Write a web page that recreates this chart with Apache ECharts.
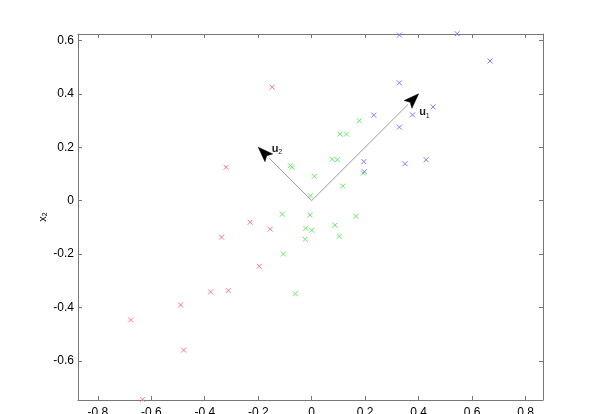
<!DOCTYPE html>
<html><head><meta charset="utf-8">
<script src="https://cdn.jsdelivr.net/npm/echarts@6/dist/echarts.min.js"></script>
<style>html,body{margin:0;padding:0;background:#fff}#c{width:600px;height:414px}</style>
</head><body><div id="c"></div><script>
// class 1 (red)
const redX = [-0.148,-0.320,-0.230,-0.155,-0.337,-0.196,-0.378,-0.312,-0.490,-0.677,-0.479,-0.632];
const redY = [0.425,0.125,-0.081,-0.107,-0.137,-0.246,-0.342,-0.337,-0.391,-0.447,-0.560,-0.745];
// class 2 (green)
const greenX = [0.178,0.106,0.130,0.077,0.096,-0.080,-0.073,0.010,0.193,0.116,-0.005,-0.110,-0.006,0.166,0.087,-0.022,0.000,0.103,-0.024,-0.106,-0.061];
const greenY = [0.299,0.249,0.249,0.155,0.153,0.131,0.125,0.091,0.103,0.054,0.018,-0.051,-0.054,-0.059,-0.092,-0.104,-0.111,-0.134,-0.145,-0.200,-0.349];
// class 3 (blue)
const blueX = [0.328,0.544,0.667,0.328,0.454,0.377,0.232,0.328,0.195,0.349,0.428,0.197];
const blueY = [0.620,0.625,0.523,0.441,0.351,0.321,0.320,0.275,0.146,0.138,0.153,0.108];
// principal directions: origin, tip, label anchor, subscript
const vecStart = [[0,0],[0,0]];
const vecTip = [[0.4,0.4],[-0.2,0.2]];
const vecLabelAt = [[0.402,0.331],[-0.149,0.193]];
const vecLabelSub = ['1','2'];
// axis ticks
const xTicks = [-0.8,-0.6,-0.4,-0.2,0,0.2,0.4,0.6,0.8];
const yTicks = [-0.6,-0.4,-0.2,0,0.2,0.4,0.6];
const xMin=-0.874, xMax=0.865, yMin=-0.747, yMax=0.624;

const zip=(a,b)=>a.map((v,i)=>[v,b[i]]);
const xPath='path://M0,0L10,10M10,0L0,10';
function sc(name,xs,ys,col){
  return {type:'scatter',name,data:zip(xs,ys),symbol:xPath,symbolSize:5,clip:false,
    itemStyle:{color:'transparent',borderColor:col,borderWidth:1,opacity:1},
    emphasis:{disabled:true},z:3};
}
const font='Liberation Sans';
const axCol='#777';
function xAx(pos,show){
  return {type:'value',position:pos,min:xMin,max:xMax,
    axisLine:{show:true,onZero:false,lineStyle:{color:axCol,width:1}},
    axisTick:{show:true,inside:true,length:4,customValues:xTicks,lineStyle:{color:axCol}},
    axisLabel:{show:show,customValues:xTicks,margin:7,color:'#000',fontSize:12,fontFamily:font,
      formatter:v=>String(Math.round(v*10)/10)},
    splitLine:{show:false}};
}
function yAx(pos,show){
  return {type:'value',position:pos,min:yMin,max:yMax,
    axisLine:{show:true,onZero:false,lineStyle:{color:axCol,width:1}},
    axisTick:{show:true,inside:true,length:4,customValues:yTicks,lineStyle:{color:axCol}},
    axisLabel:{show:show,customValues:yTicks,margin:4,color:'#000',fontSize:12,fontFamily:font,
      formatter:v=>String(Math.round(v*10)/10)},
    splitLine:{show:false}};
}
const yLeft=yAx('left',true);
yLeft.name='x{s|2}';
yLeft.nameLocation='middle';
yLeft.nameRotate=90;
yLeft.nameGap=29;
yLeft.nameMoveOverlap=false;
yLeft.nameTextStyle={color:'#000',fontSize:11,fontFamily:font,rich:{s:{fontSize:7,color:'#000',fontFamily:font,padding:[5,0,0,0]}}};

const arrowData=vecStart.map((s,i)=>[s[0],s[1],vecTip[i][0],vecTip[i][1],vecLabelAt[i][0],vecLabelAt[i][1]]);

const chart=echarts.init(document.getElementById('c'),null,{renderer:'canvas'});
chart.setOption({
  animation:false,
  backgroundColor:'#fff',
  grid:{left:78,right:57,top:34,bottom:14,outerBoundsMode:'none',containLabel:false},
  xAxis:[xAx('bottom',true),xAx('top',false)],
  yAxis:[yLeft,yAx('right',false)],
  series:[
    sc('c1',redX,redY,'#ff7a7a'),
    sc('c2',greenX,greenY,'#66ee66'),
    sc('c3',blueX,blueY,'#7a7aff'),
    {type:'custom',data:arrowData,encode:{x:[0,2,4],y:[1,3,5]},z:5,
     renderItem(params,api){
       const p0=api.coord([api.value(0),api.value(1)]);
       const p1=api.coord([api.value(2),api.value(3)]);
       const lp=api.coord([api.value(4),api.value(5)]);
       const dx=p1[0]-p0[0], dy=p1[1]-p0[1], L=Math.hypot(dx,dy), ux=dx/L, uy=dy/L;
       const hl=15, hw=5.5;
       const bx=p1[0]-ux*hl, by=p1[1]-uy*hl;
       const nb=[p1[0]-ux*(hl-3),p1[1]-uy*(hl-3)];
       return {type:'group',children:[
         {type:'line',shape:{x1:p0[0],y1:p0[1],x2:bx,y2:by},style:{stroke:'#999',lineWidth:1}},
         {type:'polygon',shape:{points:[p1,[bx-uy*hw,by+ux*hw],nb,[bx+uy*hw,by-ux*hw]]},style:{fill:'#000',stroke:'#000',lineWidth:0.5}},
         {type:'text',x:lp[0],y:lp[1],style:{text:'u',font:'bold 11px '+font,fill:'#222',align:'left',verticalAlign:'middle'}},
         {type:'text',x:lp[0]+6.5,y:lp[1]+3.5,style:{text:vecLabelSub[params.dataIndex],font:'7px '+font,fill:'#222',align:'left',verticalAlign:'middle'}}
       ]};
     }}
  ]
});
</script></body></html>
